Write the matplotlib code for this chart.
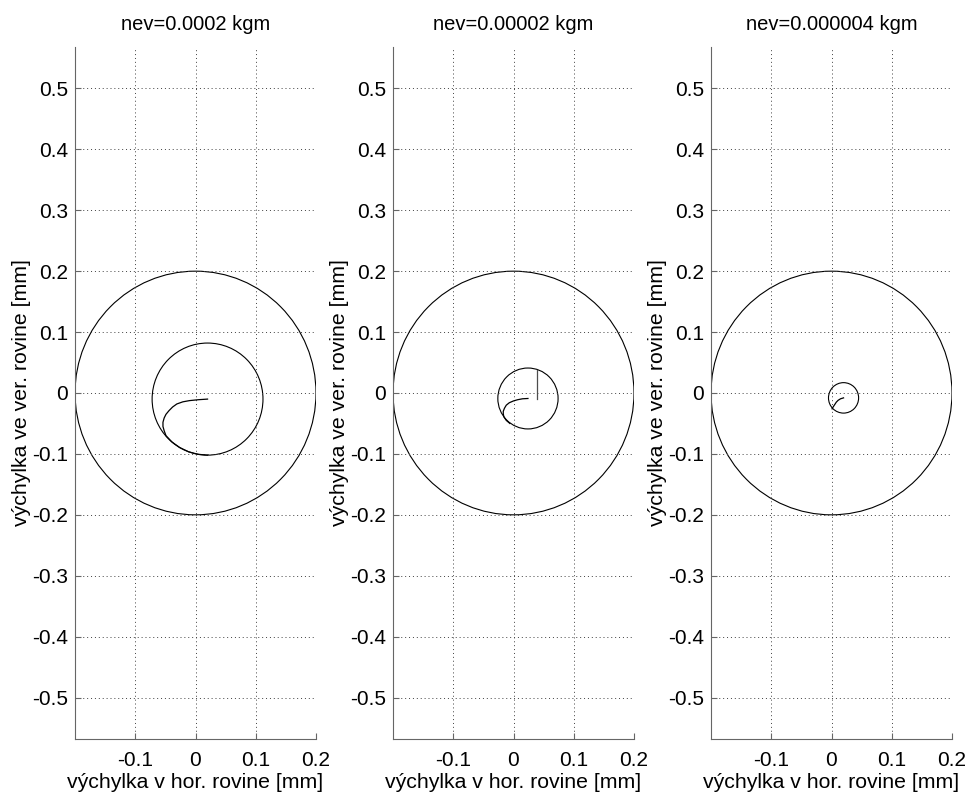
import matplotlib.pyplot as plt
from matplotlib.patches import Circle

plt.rcParams['font.family'] = ['Liberation Sans', 'DejaVu Sans']

titles = ['nev=0.0002 kgm', 'nev=0.00002 kgm', 'nev=0.000004 kgm']

# boundary circle (clearance) and steady orbits
outer_r = 0.2
orbit_cx = [0.020, 0.024, 0.020]
orbit_cy = [-0.010, -0.009, -0.008]
orbit_r = [0.092, 0.050, 0.025]

# transient part of each trajectory
tr1_x = [0.020, 0.005, -0.010, -0.021, -0.031, -0.038, -0.044, -0.049, -0.052, -0.054, -0.054, -0.052,
         -0.049, -0.039, -0.026, -0.0115, 0.004, 0.020]
tr1_y = [-0.010, -0.011, -0.0125, -0.0145, -0.018, -0.023, -0.029, -0.035, -0.041, -0.048, -0.055, -0.062,
         -0.070, -0.0805, -0.0897, -0.0965, -0.1006, -0.102]
tr2_x = [0.024, 0.015, 0.007, 0.000, -0.007, -0.012, -0.015, -0.017, -0.017, -0.016, -0.012, -0.006]
tr2_y = [-0.009, -0.0095, -0.011, -0.013, -0.016, -0.020, -0.025, -0.030, -0.034, -0.039, -0.045, -0.050]
tr3_x = [0.020, 0.015, 0.011, 0.008, 0.006, 0.004, 0.002, 0.001]
tr3_y = [-0.008, -0.0095, -0.012, -0.015, -0.018, -0.021, -0.024, -0.026]
spike_x = [0.0386, 0.0386]
spike_y = [-0.010, 0.037]

xticks = [-0.1, 0, 0.1, 0.2]
xlabels = ['-0.1', '0', '0.1', '0.2']
yticks = [-0.5, -0.4, -0.3, -0.2, -0.1, 0, 0.1, 0.2, 0.3, 0.4, 0.5]
ylabels = ['-0.5', '-0.4', '-0.3', '-0.2', '-0.1', '0', '0.1', '0.2', '0.3', '0.4', '0.5']

fig = plt.figure(figsize=(9.68, 7.94), dpi=100)
lefts = [75 / 968, 393 / 968, 711 / 968]
trans = [(tr1_x, tr1_y), (tr2_x, tr2_y), (tr3_x, tr3_y)]

for i in range(3):
    ax = fig.add_axes([lefts[i], 55 / 794, 241 / 968, 692 / 794])
    ax.add_patch(Circle((0, 0), outer_r, fill=False, ec='k', lw=0.8))
    ax.add_patch(Circle((orbit_cx[i], orbit_cy[i]), orbit_r[i], fill=False, ec='k', lw=0.8))
    ax.plot(trans[i][0], trans[i][1], color='k', lw=0.9)
    if i == 1:
        ax.plot(spike_x, spike_y, color='0.3', lw=0.9)
    ax.set_xlim(-0.2, 0.2)
    ax.set_ylim(-0.568, 0.568)
    ax.set_xticks(xticks)
    ax.set_xticklabels(xlabels)
    ax.set_yticks(yticks)
    ax.set_yticklabels(ylabels)
    ax.grid(True, ls=(0, (1, 3)), color='0.25', lw=0.7)
    for s in ['top', 'right']:
        ax.spines[s].set_visible(False)
    for s in ['left', 'bottom']:
        ax.spines[s].set_color('0.4')
    ax.tick_params(direction='in', length=4, color='0.4', labelsize=15)
    ax.tick_params(axis='x', pad=9)
    ax.tick_params(axis='y', pad=5)
    ax.set_title(titles[i], fontsize=14.5, pad=12)
    ax.set_xlabel('výchylka v hor. rovine [mm]', fontsize=15.3, labelpad=2)
    ax.set_ylabel('výchylka ve ver. rovine [mm]', fontsize=15.3, labelpad=1)

fig.savefig('out.png', dpi=100)
